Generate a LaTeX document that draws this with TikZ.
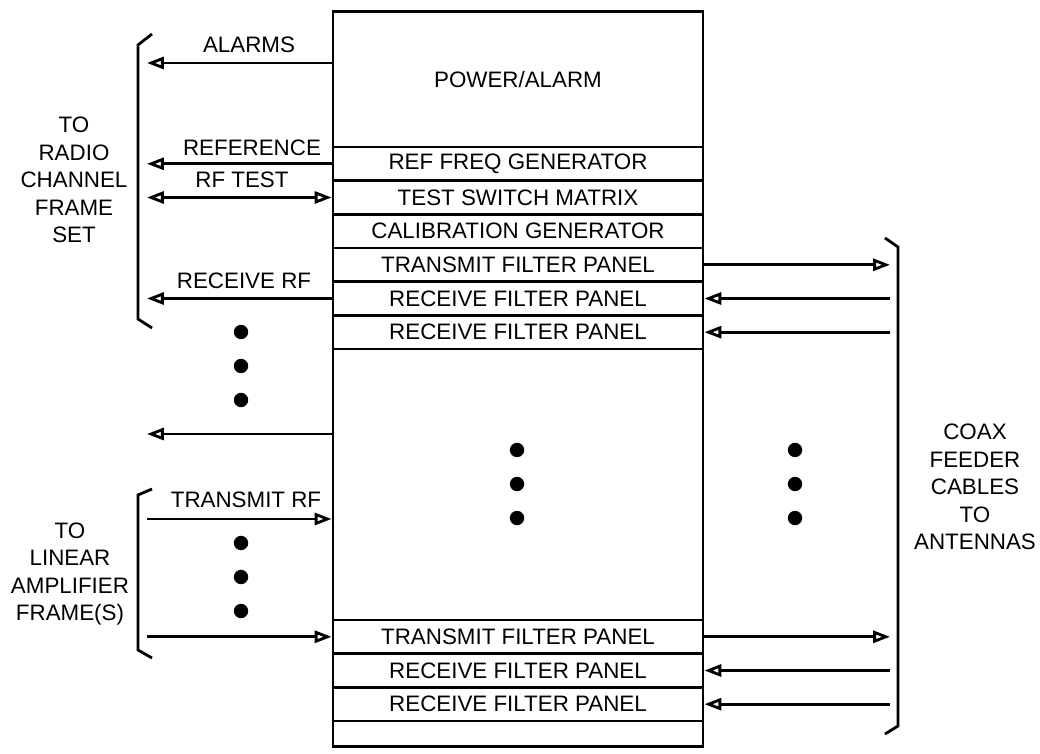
\documentclass[tikz,border=0pt]{standalone}
\usepackage{fontspec}
\setmainfont{Liberation Sans}
\usetikzlibrary{arrows.meta}

\begin{document}
\begin{tikzpicture}[x=0.025cm, y=-0.025cm, line width=2pt,
  every node/.style={font=\fontsize{15.9}{19.5}\selectfont, inner sep=0pt},
  panel/.style={draw, line width=2pt, minimum width=9.25cm, minimum height=0.842cm},
  sig/.style={-{Triangle[open, length=0.42cm, width=0.3cm]}},
  sigboth/.style={{Triangle[open, length=0.42cm, width=0.3cm]}-{Triangle[open, length=0.42cm, width=0.3cm]}},
  dot/.style={circle, fill, minimum size=0.36cm},
  lbl/.style={align=center}]
  \useasboundingbox (0,0) rectangle (1040,754);

  % Bastidor y paneles
  \node[draw, minimum width=9.25cm, minimum height=18.35cm] (rack) at (518,379) {};
  \node[panel, minimum height=3.375cm] (power) at (518,79.5) {POWER/ALARM};
  \node[panel] (ref) at (518,163.8) {REF FREQ GENERATOR};
  \node[panel] (tsm) at (518,197.5) {TEST SWITCH MATRIX};
  \node[panel] (cal) at (518,231.2) {CALIBRATION GENERATOR};
  \node[panel] (tfp1) at (518,264.8) {TRANSMIT FILTER PANEL};
  \node[panel] (rfp1) at (518,298.5) {RECEIVE FILTER PANEL};
  \node[panel] (rfp2) at (518,332.2) {RECEIVE FILTER PANEL};
  \node[panel] (tfp2) at (518,636.8) {TRANSMIT FILTER PANEL};
  \node[panel] (rfp3) at (518,670.5) {RECEIVE FILTER PANEL};
  \node[panel] (rfp4) at (518,704.2) {RECEIVE FILTER PANEL};

  % Extremos libres
  \coordinate (lalarm) at (147,63);
  \coordinate (lref) at (147,163.8);
  \coordinate (ltest) at (147,197.5);
  \coordinate (lrx1) at (147,298.5);
  \coordinate (lrx2) at (147,434);
  \coordinate (ltx1) at (147,519);
  \coordinate (ltx2) at (147,636.8);
  \coordinate (rtx1) at (890,264.8);
  \coordinate (rrx1) at (890,298.5);
  \coordinate (rrx2) at (890,332.2);
  \coordinate (rtx2) at (890,636.8);
  \coordinate (rrx3) at (890,670.5);
  \coordinate (rrx4) at (890,704.2);

  % Flechas izquierda
  \draw[sig] (power.west |- lalarm) -- (lalarm);
  \draw[sig] (ref.west) -- (lref);
  \draw[sigboth] (ltest) -- (tsm.west);
  \draw[sig] (rfp1.west) -- (lrx1);
  \draw[sig] (rack.west |- lrx2) -- (lrx2);
  \draw[sig] (ltx1) -- (rack.west |- ltx1);
  \draw[sig] (ltx2) -- (tfp2.west);

  % Flechas derecha
  \draw[sig] (tfp1.east) -- (rtx1);
  \draw[sig] (rrx1) -- (rfp1.east);
  \draw[sig] (rrx2) -- (rfp2.east);
  \draw[sig] (tfp2.east) -- (rtx2);
  \draw[sig] (rrx3) -- (rfp3.east);
  \draw[sig] (rrx4) -- (rfp4.east);

  % Llaves
  \draw (152,34) -- (138,45) -- (138,319) -- (152,328);
  \draw (152,489) -- (138,495) -- (138,650) -- (152,658);
  \draw (885,238) -- (898,247) -- (898,726) -- (885,734);

  % Etiquetas
  \node (alarms) at (249,45) {ALARMS};
  \node (reflbl) at (252,148) {REFERENCE};
  \node (testlbl) at (242,180) {RF TEST};
  \node (rxlbl) at (244,281) {RECEIVE RF};
  \node (txlbl) at (246,500) {TRANSMIT RF};
  \node[lbl] (radio) at (74,180) {TO\\RADIO\\CHANNEL\\FRAME\\SET};
  \node[lbl] (linamp) at (70,574) {TO\\LINEAR\\AMPLIFIER\\FRAME(S)};
  \node[lbl] (coax) at (975,487) {COAX\\FEEDER\\CABLES\\TO\\ANTENNAS};

  % Puntos
  \foreach \x/\y/\n in {241/332/da1, 241/366/da2, 241/400/da3,
                        241/543/db1, 241/577/db2, 241/611/db3,
                        517/450/dc1, 517/484/dc2, 517/518/dc3,
                        795/450/dd1, 795/484/dd2, 795/518/dd3}
    \node[dot] (\n) at (\x,\y) {};
\end{tikzpicture}
\end{document}
